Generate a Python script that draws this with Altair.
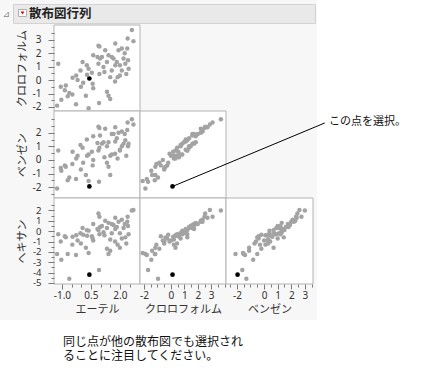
import altair as alt
import pandas as pd

# ---- data ----
ether = [-1.19, -1.06, -1.03, -0.62, -0.46, -0.27, -0.45, -0.26, -0.04, -0.19,
         -0.02, 0.07, 0.29, 0.38, 0.42, 0.24, 0.38, 0.59, 0.62, 0.89,
         0.94, 0.97, 0.89, 0.94, 0.92, 1.07, 1.15, 1.24, 1.33, 1.41,
         1.50, 1.33, 1.41, 1.50, 1.58, 1.67, 1.76, 1.76, 1.84, 1.93,
         2.00, 2.10, 1.88, 2.10, 2.19, 2.28, 2.33, 2.40, 2.42, 2.45,
         2.62, 2.38, 2.00, 1.58, 0.84, 0.62, -0.80, 0.55, 1.20, 1.75,
         2.25, -0.70, -1.25, 2.70, -0.85, 0.10, 0.30]
chloroform = [1.22, -0.49, -1.46, -0.96, -1.08, -1.79, 0.17, 0.34, 0.72, 0.00,
              -0.50, 1.34, 1.10, 0.85, 0.12, -1.16, -2.10, -0.28, -0.60, 2.55,
              2.50, 1.60, 1.22, 0.46, -1.70, 1.72, 0.97, 2.22, -0.86, -1.16,
              -1.40, 1.35, 1.85, 0.22, 0.72, 1.60, 2.72, 1.10, 1.35, 2.22,
              1.10, 0.72, 0.22, 2.35, 1.60, 1.22, 0.46, 3.10, 1.47, 0.85,
              3.72, 2.35, 0.34, 1.72, 1.72, 1.85, -0.40, 0.55, 0.60, -0.10,
              2.00, -1.20, -1.90, 2.90, -0.75, -0.20, 0.40]
benzene = [0.70, -0.60, -0.80, -1.30, -0.30, -1.40, 0.60, 0.10, 1.10, 0.30,
           -0.70, 0.90, 1.50, 0.40, -1.95, -1.10, -1.55, -0.40, 0.00, 2.45,
           2.35, 1.80, 0.70, 0.90, -1.60, 1.20, 1.30, 2.30, -0.20, -0.50,
           -1.10, 1.00, 1.30, 0.30, 0.40, 1.90, 2.40, 1.35, 1.60, 2.00,
           0.75, 1.00, 0.10, 2.10, 1.20, 1.45, 0.30, 2.75, 1.00, 1.20,
           3.00, 2.20, 0.70, 1.90, 1.25, 1.75, -0.50, 0.60, 0.20, 0.45,
           1.90, -1.50, -2.10, 2.60, -0.40, -0.20, 0.30]
hexane = [-0.30, -1.00, -2.75, -4.60, -1.30, -2.30, -0.55, -0.40, -0.20, -0.90,
          -1.20, 0.30, 0.10, 0.05, -4.20, -1.60, -2.10, -0.70, -0.90, 1.70,
          1.40, 0.40, 0.10, -0.30, -3.75, 0.50, -0.10, 1.00, -1.70, -2.20,
          -1.90, 0.30, 0.80, -0.80, -0.20, 0.60, 1.30, 0.20, 0.40, 0.90,
          -0.20, -0.70, -1.30, 1.10, 0.30, -0.60, -1.20, 1.40, 0.50, -0.30,
          2.00, 0.90, -1.60, 0.70, 0.20, 0.70, -0.60, -0.50, -0.40, -1.00,
          0.70, -2.20, -2.20, 2.05, -0.50, -0.35, -0.45]
selected_index = 14

names = {"E": "エーテル", "C": "クロロフォルム", "B": "ベンゼン", "H": "ヘキサン"}
header_title = "散布図行列"
note_text = "この点を選択。"
caption_lines = ["同じ点が他の散布図でも選択され", "ることに注目してください。"]

df = pd.DataFrame({"E": ether, "C": chloroform, "B": benzene, "H": hexane})
df_sel = df.iloc[[selected_index]].reset_index(drop=True)
df_rest = df.drop(index=selected_index).reset_index(drop=True)

# ---- layout ----
W, HT = 448, 374
COLS = {"E": (54, 140), "C": (140, 226), "B": (226, 313)}
ROWS = {"C": (25, 111), "B": (111, 198), "H": (198, 284)}
DOM = {"E": [-1.41, 3.04], "C": [-2.3, 4.1], "B": [-2.8, 3.6], "H": [-5.1, 3.2]}
TICKS_X = {
    "E": [-1.0, -0.5, 0.0, 0.5, 1.0, 1.5, 2.0, 2.5],
    "C": [-2.0, -1.5, -1.0, -0.5, 0.0, 0.5, 1.0, 1.5, 2.0, 2.5, 3.0, 3.5, 4.0],
    "B": [-2.5, -2.0, -1.5, -1.0, -0.5, 0.0, 0.5, 1.0, 1.5, 2.0, 2.5, 3.0, 3.5],
}
TICKS_Y = {
    "C": [-2.0, -1.5, -1.0, -0.5, 0.0, 0.5, 1.0, 1.5, 2.0, 2.5, 3.0, 3.5],
    "B": [-2.5, -2.0, -1.5, -1.0, -0.5, 0.0, 0.5, 1.0, 1.5, 2.0, 2.5, 3.0],
    "H": [-5.0, -4.5, -4.0, -3.5, -3.0, -2.5, -2.0, -1.5, -1.0, -0.5, 0.0, 0.5, 1.0, 1.5, 2.0, 2.5],
}
SIGN = "(datum.value < 0 ? '-' : '')"
MAJOR = {
    "E": "(datum.value == -1 || datum.value == 0.5 || datum.value == 2)",
    "C": "(datum.value % 1 == 0 && datum.value != -1 && datum.value < 3.5)",
    "B": "(datum.value % 1 == 0 && datum.value != -1)",
}
MAJOR_Y = {
    "C": "(datum.value % 1 == 0 && datum.value <= 3)",
    "B": "(datum.value % 1 == 0 && datum.value <= 2)",
    "H": "(datum.value % 1 == 0 && datum.value <= 2)",
}

FONT_NUM = "Noto Sans"
FONT_JP = "Noto Sans CJK JP"
TXT = "#333333"


def x_axis(v):
    fmt = "'.1f'" if v == "E" else "'d'"
    return alt.Axis(
        orient="bottom", offset=-(HT - 284), values=TICKS_X[v], title=names[v],
        labelExpr=f"{MAJOR[v]} ? {SIGN} + format(abs(datum.value), {fmt}) : ''",
        tickSize={"condition": {"test": MAJOR[v], "value": 5}, "value": 3},
        labelFontSize={"condition": {"test": MAJOR[v], "value": 10}, "value": 1},
        domain=False, grid=False, ticks=True, tickColor="#7a7a7a", zindex=2,
        labelFont=FONT_NUM, labelColor=TXT, labelPadding=1,
        labelOverlap=False, labelFlush=False, labelBound=False,
        titleFont=FONT_JP, titleFontSize=11, titleFontWeight="normal",
        titleColor=TXT, titlePadding=3,
    )


def y_axis(v):
    return alt.Axis(
        orient="left", offset=-54, values=TICKS_Y[v], title=names[v],
        labelExpr=f"{MAJOR_Y[v]} ? {SIGN} + format(abs(datum.value), 'd') : ''",
        tickSize={"condition": {"test": MAJOR_Y[v], "value": 6}, "value": 3},
        labelFontSize={"condition": {"test": MAJOR_Y[v], "value": 10 if v != "H" else 9.5},
                       "value": 1},
        domain=False, grid=False, ticks=True, tickColor="#7a7a7a", zindex=2,
        labelFont=FONT_NUM, labelColor=TXT, labelPadding=7,
        labelOverlap=False, labelFlush=False, labelBound=False,
        titleFont=FONT_JP, titleFontSize=11, titleFontWeight="normal",
        titleColor=TXT, titlePadding=5,
    )


def panel(xv, yv, show_x, show_y, extra=None):
    x0, x1 = COLS[xv]
    y0, y1 = ROWS[yv]
    xs = alt.Scale(domain=DOM[xv], range=[x0, x1], nice=False, zero=False)
    ys = alt.Scale(domain=DOM[yv], range=[y1, y0], nice=False, zero=False)
    xa = x_axis(xv) if show_x else None
    ya = y_axis(yv) if show_y else None
    frame_df = pd.DataFrame({"xa": [DOM[xv][0]], "xb": [DOM[xv][1]],
                             "ya": [DOM[yv][0]], "yb": [DOM[yv][1]]})
    frame = alt.Chart(frame_df).mark_rect(
        fill="white", stroke="#b3b3b3", strokeWidth=1
    ).encode(
        x=alt.X("xa:Q", scale=xs, axis=xa), x2="xb:Q",
        y=alt.Y("ya:Q", scale=ys, axis=ya), y2="yb:Q",
    )
    pts = alt.Chart(df_rest).mark_circle(size=20, color="#a3a3a3", opacity=1).encode(
        x=alt.X(f"{xv}:Q", scale=xs, axis=xa),
        y=alt.Y(f"{yv}:Q", scale=ys, axis=ya),
    )
    sel = alt.Chart(df_sel).mark_circle(size=22, color="black", opacity=1).encode(
        x=alt.X(f"{xv}:Q", scale=xs, axis=xa),
        y=alt.Y(f"{yv}:Q", scale=ys, axis=ya),
    )
    layers = [frame, pts]
    if extra is not None:
        layers.append(extra(xs, ys, xa, ya))
    layers.append(sel)
    return alt.layer(*layers)


def pointer(xs, ys, xa, ya):
    ann = pd.DataFrame({"C": [chloroform[selected_index]], "B": [benzene[selected_index]],
                        "C2": [11.45], "B2": [2.72]})
    return alt.Chart(ann).mark_rule(color="black", strokeWidth=1).encode(
        x=alt.X("C:Q", scale=xs, axis=xa), x2="C2:Q",
        y=alt.Y("B:Q", scale=ys, axis=ya), y2="B2:Q",
    )


one = pd.DataFrame({"k": [0]})

bg = alt.Chart(one).mark_rect(fill="#f7f7f7").encode(
    x=alt.value(0), x2=alt.value(317), y=alt.value(0), y2=alt.value(320))
bar = alt.Chart(one).mark_rect(fill="#e9e9e9", stroke="#d2d2d2", strokeWidth=1).encode(
    x=alt.value(13.5), x2=alt.value(315.5), y=alt.value(4.5), y2=alt.value(23.5))
disc = alt.Chart(one).mark_text(text="⊿", font="DejaVu Sans", fontSize=9,
                                color="#8a8a8a", align="center", baseline="middle").encode(
    x=alt.value(6.5), y=alt.value(14))
btn = alt.Chart(one).mark_rect(fill="white", stroke="#b0b0b0", strokeWidth=1).encode(
    x=alt.value(18.5), x2=alt.value(26.5), y=alt.value(9.5), y2=alt.value(16.5))
tri = alt.Chart(one).mark_point(shape="triangle-down", filled=True, size=14,
                                color="#d40000", opacity=1).encode(
    x=alt.value(22.5), y=alt.value(13))
title = alt.Chart(one).mark_text(text=header_title, font=FONT_JP, fontSize=12.5,
                                 fontWeight="bold", color="#222222",
                                 align="left", baseline="middle").encode(
    x=alt.value(29), y=alt.value(14))
note = alt.Chart(one).mark_text(text=note_text, font=FONT_JP, fontSize=11,
                                color="#111111", align="left", baseline="middle").encode(
    x=alt.value(329), y=alt.value(122))
cap = alt.Chart(pd.DataFrame({"line": caption_lines, "i": [0, 1]})).mark_text(
    font=FONT_JP, fontSize=12, color="#111111", align="left", baseline="middle"
).encode(
    text="line:N",
    x=alt.value(63),
    y=alt.Y("i:Q", scale=alt.Scale(domain=[0, 1], range=[342, 356]), axis=None),
)

p11 = panel("E", "C", False, True)
p21 = panel("E", "B", False, True)
p22 = panel("C", "B", False, False, extra=pointer)
p31 = panel("E", "H", True, True)
p32 = panel("C", "H", True, False)
p33 = panel("B", "H", True, False)

chart = alt.layer(
    bg, bar, disc, btn, tri, title, p11, p21, p22, p31, p32, p33, note, cap
).resolve_scale(
    x="independent", y="independent"
).properties(
    width=W, height=HT, autosize=alt.AutoSizeParams(type="none"), padding=0,
    background="white",
).configure_view(strokeWidth=0)

chart.save("out.html", embed_options={"renderer": "svg", "actions": False})
